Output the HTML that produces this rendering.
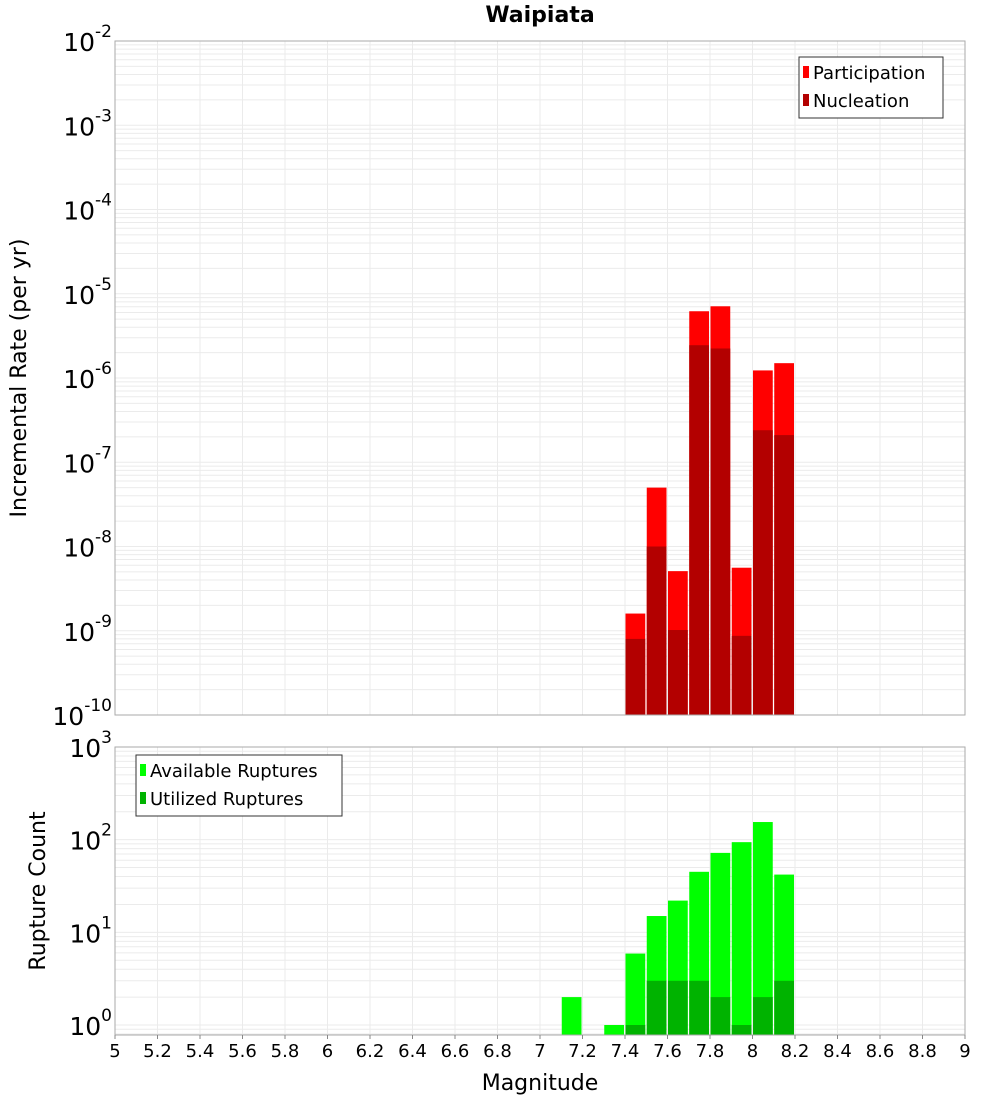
<!DOCTYPE html>
<html><head><meta charset="utf-8"><style>
body{margin:0;background:#fff;font-family:"DejaVu Sans","Liberation Sans",sans-serif}
</style></head><body>
<svg id="c" width="1000" height="1100" xmlns="http://www.w3.org/2000/svg"></svg>
<script>
const binCenters=[7.45,7.55,7.65,7.75,7.85,7.95,8.05,8.15];
const participation=[1.6e-9,5e-8,5.1e-9,6.2e-6,7.1e-6,5.6e-9,1.23e-6,1.5e-6];
const nucleation=[8e-10,1e-8,1.02e-9,2.45e-6,2.24e-6,8.7e-10,2.4e-7,2.1e-7];
const countCenters=[7.15,7.35,7.45,7.55,7.65,7.75,7.85,7.95,8.05,8.15];
const available=[2,1,5.9,15,22,45,72,94,155,42];
const utilized=[0,0,1,3,3,3,2,1,2,3];
const xTicks=[5,5.2,5.4,5.6,5.8,6,6.2,6.4,6.6,6.8,7,7.2,7.4,7.6,7.8,8,8.2,8.4,8.6,8.8,9];
const topExps=[-2,-3,-4,-5,-6,-7,-8,-9,-10];
const botExps=[3,2,1,0];

const svg=document.getElementById('c');
const NS='http://www.w3.org/2000/svg';
function mk(tag,attrs,parent){const e=document.createElementNS(NS,tag);for(const k in attrs)e.setAttribute(k,attrs[k]);(parent||svg).appendChild(e);return e;}
const L=115,R=965;
const x=v=>L+(v-5)/4*(R-L);
const T1=41,B1=715,yTop=v=>T1+(-2-Math.log10(v))/8*(B1-T1);
const T2=747,B2=1035,dec2=(1025-747)/3,yBot=v=>T2+(3-Math.log10(v))*dec2;

function panel(T,B,yf,lo,hi,name){
  const g=mk('g',{});
  
  for(let e=lo;e<hi;e++)for(let m=1;m<10;m++){const yy=yf(m*Math.pow(10,e));if(yy>=T&&yy<=B)mk('line',{x1:L,x2:R,y1:yy,y2:yy,stroke:'#ebebeb','stroke-width':1},g);}
  xTicks.forEach(t=>{mk('line',{x1:x(t),x2:x(t),y1:T,y2:B,stroke:'#ebebeb','stroke-width':1},g);});
}
panel(T1,B1,yTop,-10,-2,'top');
panel(T2,B2,yBot,-1,3,'bottom');

binCenters.forEach((c,i)=>{
  const x0=x(c-0.05)+0.5,w=x(c+0.05)-x(c-0.05)-1.5;
  const p=mk('rect',{x:x0,y:yTop(participation[i]),width:w,height:B1-yTop(participation[i]),fill:'#ff0000'});
  
  const n=mk('rect',{x:x0,y:yTop(nucleation[i]),width:w,height:B1-yTop(nucleation[i]),fill:'#b30000'});
  
});
countCenters.forEach((c,i)=>{
  const x0=x(c-0.05)+0.5,w=x(c+0.05)-x(c-0.05)-1.5;
  const a=mk('rect',{x:x0,y:yBot(available[i]),width:w,height:B2-yBot(available[i]),fill:'#00ff00'});
  
  if(utilized[i]>0){const u=mk('rect',{x:x0,y:yBot(utilized[i]),width:w,height:B2-yBot(utilized[i]),fill:'#00b300'});
  }
});
[[T1,B1],[T2,B2]].forEach(([T,B],k)=>{const f=mk('rect',{x:L,y:T,width:R-L,height:B-T,fill:'none',stroke:'#aaa','stroke-width':1});
});
function expLabel(yy,e,name){const t=mk('text',{x:112,y:yy+10,'text-anchor':'end','font-size':25,fill:'#000'});

const s1=document.createElementNS(NS,'tspan');s1.textContent='10';t.appendChild(s1);
const s2=document.createElementNS(NS,'tspan');s2.setAttribute('dy','-14');s2.setAttribute('font-size','17');s2.textContent=String(e);t.appendChild(s2);}
topExps.forEach(e=>expLabel(yTop(Math.pow(10,e)),e,'top-y-tick-label'));
botExps.forEach(e=>expLabel(yBot(Math.pow(10,e)),e,'bottom-y-tick-label'));
xTicks.forEach(t=>{mk('line',{x1:x(t),x2:x(t),y1:B2,y2:B2+4,stroke:'#888'});
const tx=mk('text',{x:x(t),y:B2+22,'text-anchor':'middle','font-size':18,fill:'#000'});tx.textContent=String(t);
});
function txt(s,a,name){const t=mk('text',a);t.textContent=s;return t;}
txt('Waipiata',{x:540,y:22,'text-anchor':'middle','font-size':22,'font-weight':'bold'},'chart-title');
txt('Magnitude',{x:540,y:1090,'text-anchor':'middle','font-size':22},'x-axis-title');
txt('Incremental Rate (per yr)',{x:0,y:0,'text-anchor':'middle','font-size':22,transform:'translate(26,378) rotate(-90)'},'top-y-axis-title');
txt('Rupture Count',{x:0,y:0,'text-anchor':'middle','font-size':22,transform:'translate(45,891) rotate(-90)'},'bottom-y-axis-title');
function legend(x0,y0,w,items,name){const g=mk('g',{});
mk('rect',{x:x0,y:y0,width:w,height:61,fill:'#fff',stroke:'#333'},g);
items.forEach((it,i)=>{mk('rect',{x:x0+4,y:y0+9+i*28,width:6,height:12,fill:it[1]},g);
const t=mk('text',{x:x0+14,y:y0+22+i*28,'font-size':18},g);t.textContent=it[0];});}
legend(799,57,144,[['Participation','#ff0000'],['Nucleation','#b30000']],'top-legend');
legend(136,755,206,[['Available Ruptures','#00ff00'],['Utilized Ruptures','#00b300']],'bottom-legend');
</script>
</body></html>
